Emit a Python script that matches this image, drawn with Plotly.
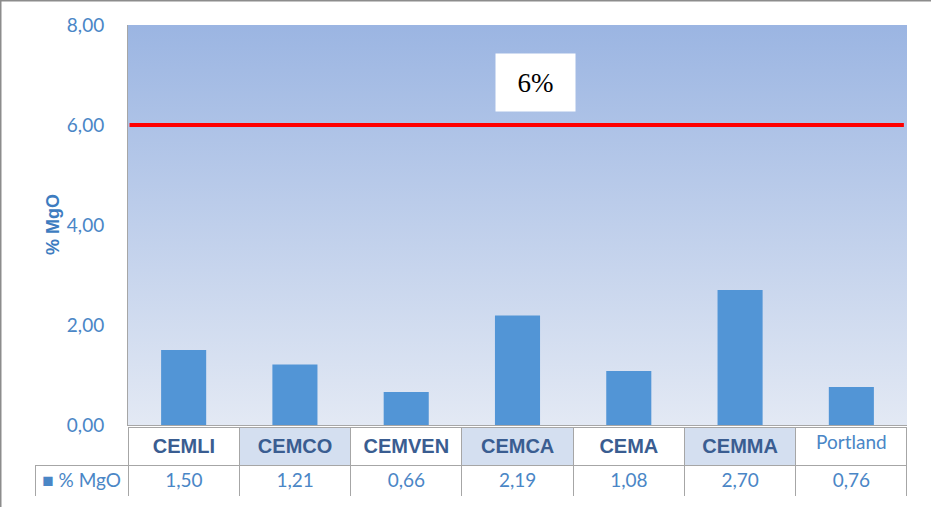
import base64

import plotly.graph_objects as go

# data
categories = ["CEMLI", "CEMCO", "CEMVEN", "CEMCA", "CEMA", "CEMMA", "Portland"]
mgo_values = [1.50, 1.21, 0.66, 2.19, 1.08, 2.70, 0.76]
series_name = "% MgO"
limit_value = 6.0
limit_label = "6%"
y_ticks = [0, 2, 4, 6, 8]

W, H = 931, 507
BAR_BLUE = "#5295d6"
TICK_BLUE = "#4a86c6"
HEAD_BLUE = "#3a5d91"
GRID_GRAY = "#a6a6a6"
CLEAR = "rgba(0,0,0,0)"

# plot area in pixels
px_l, px_r, px_t, px_b = 128, 907, 25, 425


def fmt(v):
    return f"{v:.2f}".replace(".", ",")


# vertical gradient for the plot background
svg = (
    "<svg xmlns='http://www.w3.org/2000/svg' width='10' height='100' preserveAspectRatio='none'>"
    "<defs><linearGradient id='g' x1='0' y1='0' x2='0' y2='1'>"
    "<stop offset='0' stop-color='#9bb5e2'/><stop offset='1' stop-color='#e3e9f4'/>"
    "</linearGradient></defs><rect width='10' height='100' fill='url(#g)'/></svg>"
)
bg_src = "data:image/svg+xml;base64," + base64.b64encode(svg.encode()).decode()

fig = go.Figure()

fig.add_bar(
    x=categories,
    y=mgo_values,
    name=series_name,
    marker=dict(color=BAR_BLUE, line=dict(width=0)),
    hovertemplate="%{x}: %{y:.2f}<extra></extra>",
)

# data table under the plot
header_fill = [CLEAR, "white", "#d4dff0", "white", "#d4dff0", "white", "#d4dff0", "white"]
header_text = [""] + [f"<b>{c}</b>" if c != "Portland" else c for c in categories]
header_color = [HEAD_BLUE] * 7 + [TICK_BLUE]
header_family = ["Liberation Sans"] * 7 + ["Lato"]
header_size = [20] * 7 + [19]
header_line = [CLEAR] + [GRID_GRAY] * 7

legend_cell = ("■ " + series_name).replace(" ", "\u00a0")
cells = [[legend_cell]] + [[fmt(v)] for v in mgo_values]

fig.add_trace(
    go.Table(
        domain=dict(x=[35 / W, px_r / W], y=[1 - 496 / H, 1 - 427 / H]),
        columnwidth=[93] + [111] * 7,
        header=dict(
            values=header_text,
            fill_color=header_fill,
            line=dict(color=header_line, width=1),
            font=dict(color=header_color, family=header_family, size=header_size),
            align="center",
            height=35,
        ),
        cells=dict(
            values=cells,
            fill_color="white",
            line=dict(color=GRID_GRAY, width=1),
            font=dict(color=TICK_BLUE, family="Lato", size=19),
            align="center",
            height=34,
        ),
    )
)

fig.update_layout(
    width=W,
    height=H,
    margin=dict(l=0, r=0, t=0, b=0),
    paper_bgcolor="white",
    plot_bgcolor=CLEAR,
    separators=",.",
    showlegend=False,
    bargap=0.595,
    xaxis=dict(
        domain=[px_l / W, px_r / W],
        automargin=False,
        showticklabels=False,
        ticks="",
        showline=True,
        linecolor=GRID_GRAY,
        linewidth=1,
        showgrid=False,
        zeroline=False,
        fixedrange=True,
    ),
    yaxis=dict(
        domain=[1 - px_b / H, 1 - px_t / H],
        automargin=False,
        range=[0, 8],
        tickvals=y_ticks,
        tickformat=".2f",
        tickfont=dict(family="Lato", size=19, color=TICK_BLUE),
        ticks="",
        ticklabelstandoff=19,
        showline=True,
        linecolor=GRID_GRAY,
        linewidth=1,
        showgrid=False,
        zeroline=False,
        fixedrange=True,
    ),
    images=[
        dict(
            source=bg_src,
            xref="x domain", yref="y domain",
            x=0, y=1, sizex=1, sizey=1,
            sizing="stretch", layer="below",
            xanchor="left", yanchor="top",
        )
    ],
    shapes=[
        dict(
            type="line", xref="x domain", yref="y",
            x0=0.002, x1=0.996, y0=limit_value, y1=limit_value,
            line=dict(color="#ff0000", width=4),
        ),
        # outer frame (top and left edges)
        dict(type="line", xref="paper", yref="paper", x0=0, x1=1, y0=1, y1=1,
             line=dict(color="#8c8c8c", width=3)),
        dict(type="line", xref="paper", yref="paper", x0=0, x1=0, y0=0, y1=1,
             line=dict(color="#8c8c8c", width=3)),
    ],
    annotations=[
        dict(
            text=limit_label, xref="paper", yref="y",
            x=535.5 / W, y=6.85, showarrow=False,
            width=79, height=57, bgcolor="white", borderpad=0,
            font=dict(family="Liberation Serif", size=27, color="black"),
        ),
        dict(
            text=f"<b>{series_name}</b>", xref="paper", yref="paper",
            x=41 / W, y=1 - 225 / H, textangle=-90, showarrow=False,
            font=dict(family="Liberation Sans", size=18, color="#3d7cc0"),
        ),
    ],
)

fig.write_html(
    "out.html",
    config={"displayModeBar": False},
    post_script="document.body.style.margin='0';document.body.style.overflow='hidden';",
)
